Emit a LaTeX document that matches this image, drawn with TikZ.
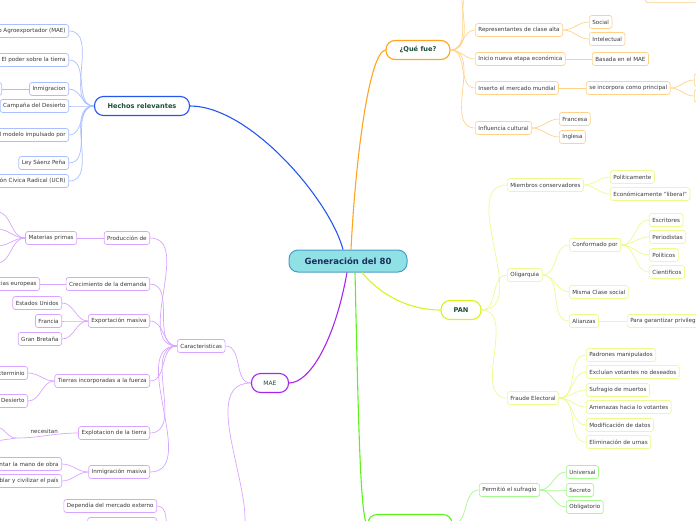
\documentclass[tikz,border=0pt]{standalone}
\usepackage{fontspec}
\setmainfont{DejaVu Sans}
\usetikzlibrary{calc}

\definecolor{rootfondo}{HTML}{8FE1E6}
\definecolor{rootborde}{HTML}{4A9CC8}
\definecolor{rootletra}{HTML}{1C2D5A}
\definecolor{verdeosc}{HTML}{1D4D3B}
\definecolor{texto}{HTML}{3A3A3A}
\definecolor{azul}{HTML}{2357F0}
\definecolor{azulclaro}{HTML}{A9BFFF}
\definecolor{naranja}{HTML}{FFA41C}
\definecolor{naranjaclaro}{HTML}{FFD28A}
\definecolor{amarillo}{HTML}{D8F41C}
\definecolor{amarilloclaro}{HTML}{EEF98E}
\definecolor{morado}{HTML}{A626F0}
\definecolor{moradoclaro}{HTML}{D8A4FF}
\definecolor{verde}{HTML}{5CF21C}
\definecolor{verdeclaro}{HTML}{A4F88E}

\begin{document}
\begin{tikzpicture}[x=1pt,y=-1pt,
	kid/.style={draw, fill=white, rounded corners=2.5pt, line width=0.7pt, minimum height=13pt,
		inner xsep=3pt, inner ysep=0pt, text=texto, font=\fontsize{5.6}{6.5}\selectfont},
	rama/.style={draw, fill=white, rounded corners=9pt, line width=1.1pt, minimum height=19pt,
		text=verdeosc, font=\fontsize{6.6}{8}\selectfont\bfseries},
	lazo/.style={line width=0.7pt},
	grueso/.style={line width=1.1pt}]
\clip (0,0) rectangle (696,520);

% centro
\node [draw=rootborde, fill=rootfondo, line width=1pt, rounded corners=9pt, minimum width=118pt,
	minimum height=22pt, text=rootletra, font=\fontsize{8.5}{10}\selectfont\bfseries] (gen) at (348,261) {Generación del 80};

% Hechos relevantes
\node [rama, draw=azul, minimum width=95pt] (hechos) at (142,106) {Hechos relevantes};
\draw [grueso, azul] ($(gen.north)+(-5,0)$) .. controls (330,200) and (250,106) .. (hechos.east);
\foreach \nm/\y/\t in {h1/31/Modelo Agroexportador (MAE), h2/60/El poder sobre la tierra,
	h3/89/Inmigracion, h4/106/Campaña del Desierto, h5/135/el modelo impulsado por,
	h6/163/Ley Sáenz Peña, h7/181/Unión Civica Radical (UCR)} {
	\node [kid, draw=azulclaro, anchor=east] (\nm) at (69,\y) {\t};
	\draw [lazo, azulclaro] (hechos.west) to[out=180,in=0] (\nm.east);
}
\node [kid, draw=azulclaro, anchor=east, minimum width=30pt] (h3a) at (2,89) {};
\draw [lazo, azulclaro] (h3.west) -- (h3a.east);

% Que fue
\node [rama, draw=naranja, minimum width=64pt] (que) at (418,50) {¿Qué fue?};
\draw [grueso, naranja] ($(gen.north)+(3,0)$) .. controls (356,150) and (370,52) .. (que.west);
\coordinate (q1) at (475,-10);
\coordinate (q2) at (475,-32);
\foreach \nm/\y/\t in {rep/30/Representantes de clase alta, ini/59/Inicio nueva etapa económica,
	ins/88/Inserto el mercado mundial, inf/128/Influencia cultural} {
	\node [kid, draw=naranjaclaro, anchor=west] (\nm) at (475,\y) {\t};
	\draw [lazo, naranjaclaro] (que.east) to[out=0,in=180] (\nm.west);
}
\foreach \nm in {q1,q2}
	\draw [lazo, naranjaclaro] (que.east) to[out=0,in=180] (\nm);
\node [kid, draw=naranjaclaro, anchor=south west] (riq) at (645,3) {riqueza sobre la tierra};
\foreach \nm/\y/\t in {soc/22/Social, int/39/Intelectual} {
	\node [kid, draw=naranjaclaro, anchor=west] (\nm) at (589,\y) {\t};
	\draw [lazo, naranjaclaro] (rep.east) to[out=0,in=180] (\nm.west);
}
\node [kid, draw=naranjaclaro, anchor=west] (bas) at (592,59) {Basada en el MAE};
\draw [lazo, naranjaclaro] (ini.east) -- (bas.west);
\node [kid, draw=naranjaclaro, anchor=west] (inc) at (586,88) {se incorpora como principal};
\draw [lazo, naranjaclaro] (ins.east) -- (inc.west);
\foreach \nm/\y in {inc1/80, inc2/96} {
	\node [kid, draw=naranjaclaro, anchor=west, minimum width=40pt] (\nm) at (694,\y) {};
	\draw [lazo, naranjaclaro] (inc.east) to[out=0,in=180] (\nm.west);
}
\foreach \nm/\y/\t in {fra/119/Francesa, ing/137/Inglesa} {
	\node [kid, draw=naranjaclaro, anchor=west] (\nm) at (559,\y) {\t};
	\draw [lazo, naranjaclaro] (inf.east) to[out=0,in=180] (\nm.west);
}

% PAN
\node [rama, draw=amarillo, minimum width=40pt] (pan) at (461,310) {PAN};
\draw [grueso, amarillo] ($(gen.south)+(14,0)$) .. controls (385,300) and (415,310) .. (pan.west);
\foreach \nm/\y/\t in {miem/185/Miembros conservadores, olig/275/Oligarquia, fraude/398/Fraude Electoral} {
	\node [kid, draw=amarilloclaro, anchor=west] (\nm) at (507,\y) {\t};
	\draw [lazo, amarilloclaro] (pan.east) to[out=0,in=180] (\nm.west);
}
\foreach \nm/\y/\t in {pol/177/Politicamente, eco/194/Económicamente "liberal"} {
	\node [kid, draw=amarilloclaro, anchor=west] (\nm) at (610,\y) {\t};
	\draw [lazo, amarilloclaro] (miem.east) to[out=0,in=180] (\nm.west);
}
\foreach \nm/\y/\t in {conf/245/Conformado por, misma/292/Misma Clase social, ali/321/Alianzas} {
	\node [kid, draw=amarilloclaro, anchor=west] (\nm) at (569,\y) {\t};
	\draw [lazo, amarilloclaro] (olig.east) to[out=0,in=180] (\nm.west);
}
\foreach \nm/\y/\t in {esc/220/Escritores, per/237/Periodistas, polit/255/Politicos, cie/272/Cientificos} {
	\node [kid, draw=amarilloclaro, anchor=west] (\nm) at (649,\y) {\t};
	\draw [lazo, amarilloclaro] (conf.east) to[out=0,in=180] (\nm.west);
}
\node [kid, draw=amarilloclaro, anchor=west] (gar) at (627,321) {Para garantizar privilegios};
\draw [lazo, amarilloclaro] (ali.east) -- (gar.west);
\foreach \nm/\y/\t in {f1/355/Padrones manipulados, f2/372/Excluían votantes no deseados,
	f3/390/Sufragio de muertos, f4/407/Amenazas hacia lo votantes,
	f5/425/Modificación de datos, f6/442/Eliminación de urnas} {
	\node [kid, draw=amarilloclaro, anchor=west] (\nm) at (586,\y) {\t};
	\draw [lazo, amarilloclaro] (fraude.east) to[out=0,in=180] (\nm.west);
}

% rama verde
\node [rama, draw=verde, minimum width=84pt] (verdenodo) at (410,524) {};
\draw [grueso, verde] ($(gen.south)+(7,0)$) .. controls (358,400) and (360,524) .. (verdenodo.west);
\node [kid, draw=verdeclaro, anchor=west] (perm) at (479,490) {Permitió el sufragio};
\draw [lazo, verdeclaro] (verdenodo.east) to[out=0,in=180] (perm.west);
\foreach \nm/\y/\t in {uni/472/Universal, sec/490/Secreto, obl/507/Obligatorio} {
	\node [kid, draw=verdeclaro, anchor=west] (\nm) at (566,\y) {\t};
	\draw [lazo, verdeclaro] (perm.east) to[out=0,in=180] (\nm.west);
}

% MAE
\node [rama, draw=morado, minimum width=37pt, font=\fontsize{6}{7}\selectfont] (mae) at (270,383) {MAE};
\draw [grueso, morado] ($(gen.south)+(-1,0)$) .. controls (335,340) and (310,383) .. (mae.east);
\node [kid, draw=moradoclaro, anchor=west] (car) at (177,346) {Caracteristicas};
\draw [lazo, moradoclaro] (mae.west) to[out=180,in=0] (car.east);
\coordinate (consE) at (222,548);
\coordinate (consW) at (176,546);
\draw [lazo, moradoclaro] (mae.west) to[out=180,in=0] (consE);
\foreach \nm/\y/\t in {prod/238/Producción de, crec/284/Crecimiento de la demanda, expo/321/Exportación masiva,
	tier/381/Tierras incorporadas a la fuerza, expl/433/Explotacion de la tierra, inm/472/Inmigración masiva} {
	\node [kid, draw=moradoclaro, anchor=east] (\nm) at (150,\y) {\t};
	\draw [lazo, moradoclaro] (car.west) to[out=180,in=0] (\nm.east);
}
\node [kid, draw=moradoclaro, anchor=east] (mat) at (77,238) {Materias primas};
\draw [lazo, moradoclaro] (prod.west) -- (mat.east);
\foreach \y [count=\i] in {212,229,246,263} {
	\coordinate (m\i) at (-3,\y);
	\draw [lazo, moradoclaro] (mat.west) to[out=180,in=0] (m\i);
}
\node [kid, draw=moradoclaro, anchor=east] (pot) at (40,284) {Potencias europeas};
\draw [lazo, moradoclaro] (crec.west) -- (pot.east);
\foreach \nm/\y/\t in {eeuu/303/Estados Unidos, fran/321/Francia, gb/339/Gran Bretaña} {
	\node [kid, draw=moradoclaro, anchor=east] (\nm) at (62,\y) {\t};
	\draw [lazo, moradoclaro] (expo.west) to[out=180,in=0] (\nm.east);
}
\foreach \nm/\y/\t in {ext/373/Exterminio, des/401/Campaña del Desierto} {
	\node [kid, draw=moradoclaro, anchor=east] (\nm) at (28,\y) {\t};
	\draw [lazo, moradoclaro] (tier.west) to[out=180,in=0] (\nm.east);
}
\coordinate (nec) at (16,438);
\coordinate (nec1) at (-4,427);
\coordinate (nec2) at (-4,441);
\draw [lazo, moradoclaro] (expl.west) to[out=180,in=0]
	node [pos=0.55, above=-1pt, text=texto, font=\fontsize{5.6}{6.5}\selectfont] (necl) {necesitan} (nec);
\draw [lazo, moradoclaro] (nec) to[out=180,in=0] (nec1);
\draw [lazo, moradoclaro] (nec) -- (nec2);
\foreach \nm/\y/\t in {aum/464/Aumentar la mano de obra, pob/481/Poblar y civilizar el país} {
	\node [kid, draw=moradoclaro, anchor=east] (\nm) at (62,\y) {\t};
	\draw [lazo, moradoclaro] (inm.west) to[out=180,in=0] (\nm.east);
}
\node [kid, draw=moradoclaro, anchor=east] (dep) at (157,506) {Dependía del mercado externo};
\node [kid, draw=moradoclaro, anchor=east, minimum width=69pt] (dep2) at (157,524) {};
\foreach \nm in {dep,dep2}
	\draw [lazo, moradoclaro] (consW) to[out=180,in=0] (\nm.east);
\end{tikzpicture}
\end{document}
